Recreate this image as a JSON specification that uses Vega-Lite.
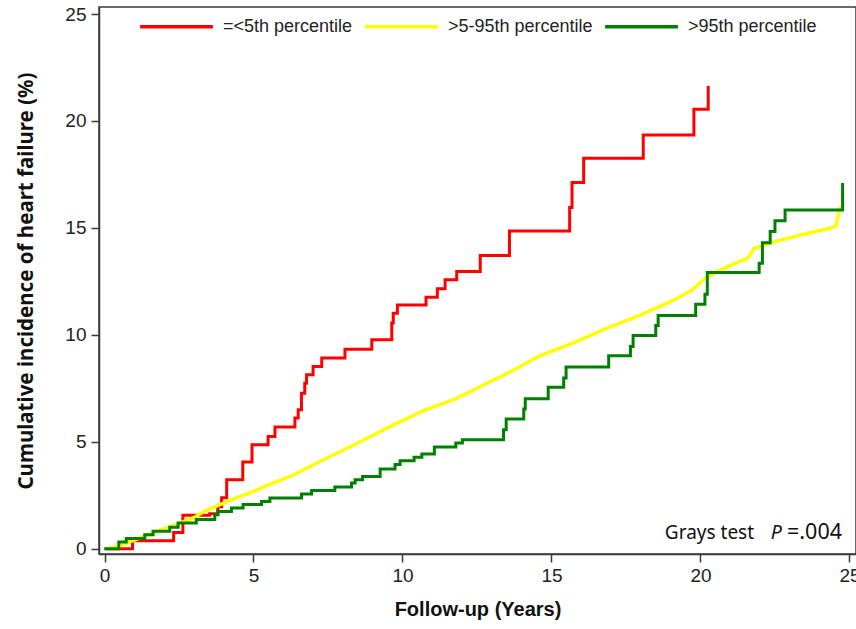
{
  "$schema": "https://vega.github.io/schema/vega-lite/v6.json",
  "width": 757,
  "height": 547,
  "autosize": {"type": "none"},
  "padding": {"left": 99, "top": 7, "right": 0, "bottom": 75},
  "background": "white",
  "config": {
    "view": {"stroke": "#3a3a3a", "strokeWidth": 1.5},
    "axis": {
      "domainColor": "#3a3a3a", "domainWidth": 1.5,
      "tickColor": "#3a3a3a", "tickWidth": 1.5, "tickSize": 8,
      "grid": false,
      "labelFont": "Liberation Sans",
      "labelFontSize": 19, "labelColor": "#222",
      "titleColor": "#111"
    }
  },
  "datasets": {
    "curves": [
      {"group": "=<5th percentile", "x": 0.0, "y": 0.0},
      {"group": "=<5th percentile", "x": 0.94, "y": 0.37},
      {"group": "=<5th percentile", "x": 2.32, "y": 0.75},
      {"group": "=<5th percentile", "x": 2.63, "y": 1.56},
      {"group": "=<5th percentile", "x": 3.53, "y": 1.63},
      {"group": "=<5th percentile", "x": 3.8, "y": 1.96},
      {"group": "=<5th percentile", "x": 3.93, "y": 2.38},
      {"group": "=<5th percentile", "x": 4.1, "y": 3.22},
      {"group": "=<5th percentile", "x": 4.64, "y": 4.05},
      {"group": "=<5th percentile", "x": 4.95, "y": 4.86},
      {"group": "=<5th percentile", "x": 5.49, "y": 5.25},
      {"group": "=<5th percentile", "x": 5.72, "y": 5.69},
      {"group": "=<5th percentile", "x": 6.39, "y": 6.11},
      {"group": "=<5th percentile", "x": 6.5, "y": 6.5},
      {"group": "=<5th percentile", "x": 6.61, "y": 7.27},
      {"group": "=<5th percentile", "x": 6.72, "y": 7.74},
      {"group": "=<5th percentile", "x": 6.78, "y": 8.13},
      {"group": "=<5th percentile", "x": 7.0, "y": 8.52},
      {"group": "=<5th percentile", "x": 7.29, "y": 8.91},
      {"group": "=<5th percentile", "x": 8.07, "y": 9.33},
      {"group": "=<5th percentile", "x": 8.97, "y": 9.77},
      {"group": "=<5th percentile", "x": 9.64, "y": 10.55},
      {"group": "=<5th percentile", "x": 9.69, "y": 11.01},
      {"group": "=<5th percentile", "x": 9.83, "y": 11.4},
      {"group": "=<5th percentile", "x": 10.79, "y": 11.76},
      {"group": "=<5th percentile", "x": 11.17, "y": 12.15},
      {"group": "=<5th percentile", "x": 11.43, "y": 12.57},
      {"group": "=<5th percentile", "x": 11.82, "y": 12.96},
      {"group": "=<5th percentile", "x": 12.61, "y": 13.71},
      {"group": "=<5th percentile", "x": 13.59, "y": 14.86},
      {"group": "=<5th percentile", "x": 15.61, "y": 15.95},
      {"group": "=<5th percentile", "x": 15.69, "y": 17.12},
      {"group": "=<5th percentile", "x": 16.08, "y": 18.26},
      {"group": "=<5th percentile", "x": 18.08, "y": 19.35},
      {"group": "=<5th percentile", "x": 19.78, "y": 20.55},
      {"group": "=<5th percentile", "x": 20.26, "y": 21.64},

      {"group": ">5-95th percentile", "x": 0.06, "y": 0.0},
      {"group": ">5-95th percentile", "x": 0.5, "y": 0.12},
      {"group": ">5-95th percentile", "x": 1.0, "y": 0.4},
      {"group": ">5-95th percentile", "x": 1.9, "y": 0.88},
      {"group": ">5-95th percentile", "x": 3.0, "y": 1.45},
      {"group": ">5-95th percentile", "x": 3.4, "y": 1.78},
      {"group": ">5-95th percentile", "x": 4.3, "y": 2.3},
      {"group": ">5-95th percentile", "x": 5.0, "y": 2.68},
      {"group": ">5-95th percentile", "x": 5.5, "y": 2.98},
      {"group": ">5-95th percentile", "x": 6.3, "y": 3.42},
      {"group": ">5-95th percentile", "x": 7.3, "y": 4.12},
      {"group": ">5-95th percentile", "x": 8.5, "y": 4.94},
      {"group": ">5-95th percentile", "x": 9.6, "y": 5.72},
      {"group": ">5-95th percentile", "x": 10.7, "y": 6.45},
      {"group": ">5-95th percentile", "x": 11.8, "y": 7.02},
      {"group": ">5-95th percentile", "x": 12.9, "y": 7.78},
      {"group": ">5-95th percentile", "x": 13.8, "y": 8.4},
      {"group": ">5-95th percentile", "x": 14.6, "y": 9.02},
      {"group": ">5-95th percentile", "x": 15.7, "y": 9.6},
      {"group": ">5-95th percentile", "x": 16.8, "y": 10.28},
      {"group": ">5-95th percentile", "x": 18.0, "y": 10.93},
      {"group": ">5-95th percentile", "x": 19.1, "y": 11.62},
      {"group": ">5-95th percentile", "x": 19.7, "y": 12.08},
      {"group": ">5-95th percentile", "x": 20.2, "y": 12.68},
      {"group": ">5-95th percentile", "x": 20.9, "y": 13.19},
      {"group": ">5-95th percentile", "x": 21.6, "y": 13.6},
      {"group": ">5-95th percentile", "x": 21.8, "y": 14.05},
      {"group": ">5-95th percentile", "x": 22.5, "y": 14.36},
      {"group": ">5-95th percentile", "x": 23.6, "y": 14.75},
      {"group": ">5-95th percentile", "x": 24.4, "y": 15.0},
      {"group": ">5-95th percentile", "x": 24.55, "y": 15.1},
      {"group": ">5-95th percentile", "x": 24.65, "y": 15.76},
      {"group": ">5-95th percentile", "x": 24.7, "y": 16.0},

      {"group": ">95th percentile", "x": 0.0, "y": 0.0},
      {"group": ">95th percentile", "x": 0.48, "y": 0.31},
      {"group": ">95th percentile", "x": 0.73, "y": 0.47},
      {"group": ">95th percentile", "x": 1.35, "y": 0.65},
      {"group": ">95th percentile", "x": 1.63, "y": 0.81},
      {"group": ">95th percentile", "x": 2.19, "y": 1.0},
      {"group": ">95th percentile", "x": 2.47, "y": 1.2},
      {"group": ">95th percentile", "x": 3.08, "y": 1.36},
      {"group": ">95th percentile", "x": 3.7, "y": 1.59},
      {"group": ">95th percentile", "x": 3.81, "y": 1.74},
      {"group": ">95th percentile", "x": 4.26, "y": 1.9},
      {"group": ">95th percentile", "x": 4.65, "y": 2.06},
      {"group": ">95th percentile", "x": 5.27, "y": 2.21},
      {"group": ">95th percentile", "x": 5.55, "y": 2.37},
      {"group": ">95th percentile", "x": 6.61, "y": 2.56},
      {"group": ">95th percentile", "x": 6.95, "y": 2.72},
      {"group": ">95th percentile", "x": 7.73, "y": 2.88},
      {"group": ">95th percentile", "x": 8.29, "y": 3.07},
      {"group": ">95th percentile", "x": 8.41, "y": 3.22},
      {"group": ">95th percentile", "x": 8.66, "y": 3.38},
      {"group": ">95th percentile", "x": 9.25, "y": 3.72},
      {"group": ">95th percentile", "x": 9.75, "y": 3.93},
      {"group": ">95th percentile", "x": 9.92, "y": 4.11},
      {"group": ">95th percentile", "x": 10.39, "y": 4.27},
      {"group": ">95th percentile", "x": 10.65, "y": 4.43},
      {"group": ">95th percentile", "x": 11.07, "y": 4.75},
      {"group": ">95th percentile", "x": 11.79, "y": 4.94},
      {"group": ">95th percentile", "x": 12.01, "y": 5.09},
      {"group": ">95th percentile", "x": 13.39, "y": 5.56},
      {"group": ">95th percentile", "x": 13.48, "y": 6.06},
      {"group": ">95th percentile", "x": 14.07, "y": 6.53},
      {"group": ">95th percentile", "x": 14.12, "y": 7.01},
      {"group": ">95th percentile", "x": 14.89, "y": 7.55},
      {"group": ">95th percentile", "x": 15.41, "y": 7.98},
      {"group": ">95th percentile", "x": 15.49, "y": 8.49},
      {"group": ">95th percentile", "x": 16.92, "y": 9.02},
      {"group": ">95th percentile", "x": 17.65, "y": 9.45},
      {"group": ">95th percentile", "x": 17.74, "y": 9.97},
      {"group": ">95th percentile", "x": 18.5, "y": 10.43},
      {"group": ">95th percentile", "x": 18.58, "y": 10.9},
      {"group": ">95th percentile", "x": 19.84, "y": 11.43},
      {"group": ">95th percentile", "x": 20.15, "y": 11.9},
      {"group": ">95th percentile", "x": 20.23, "y": 12.91},
      {"group": ">95th percentile", "x": 21.97, "y": 13.35},
      {"group": ">95th percentile", "x": 22.08, "y": 14.31},
      {"group": ">95th percentile", "x": 22.34, "y": 14.83},
      {"group": ">95th percentile", "x": 22.5, "y": 15.33},
      {"group": ">95th percentile", "x": 22.84, "y": 15.84},
      {"group": ">95th percentile", "x": 24.77, "y": 17.1}
    ],
    "note": [
      {"part": "Grays test"},
      {"part": "P"},
      {"part": "=.004"}
    ]
  },
  "layer": [
    {
      "data": {"name": "curves"},
      "transform": [{"filter": "datum.group === '=<5th percentile'"}],
      "mark": {"type": "line", "interpolate": "step-after", "strokeWidth": 3},
      "encoding": {
        "x": {
          "field": "x", "type": "quantitative",
          "scale": {"domain": [-0.185, 25.22], "nice": false, "zero": false},
          "axis": {"values": [0, 5, 10, 15, 20, 25], "title": "Follow-up (Years)",
                   "titleFont": "Liberation Sans",
                   "titleFontSize": 20, "titleFontWeight": "bold", "titlePadding": 14,
                   "labelPadding": 4, "labelFlush": false}
        },
        "y": {
          "field": "y", "type": "quantitative",
          "scale": {"domain": [-0.25, 25.33], "nice": false, "zero": false},
          "axis": {"values": [0, 5, 10, 15, 20, 25], "title": "Cumulative incidence of heart failure (%)",
                   "titleFont": "Noto Sans", "titleFontSize": 20.5, "titleFontWeight": "bold",
                   "titlePadding": 28, "labelPadding": 5}
        },
        "color": {
          "field": "group", "type": "nominal",
          "scale": {"domain": ["=<5th percentile", ">5-95th percentile", ">95th percentile"],
                    "range": ["#FF0000", "#FFFF00", "#008000"]},
          "legend": {
            "title": null, "orient": "none", "direction": "horizontal",
            "legendX": 39, "legendY": -19,
            "symbolType": "stroke", "symbolSize": 5300, "symbolStrokeWidth": 3.5,
            "labelFont": "Liberation Sans", "labelFontSize": 18, "labelColor": "#222",
            "labelOffset": 8, "columnPadding": 5
          }
        }
      }
    },
    {
      "data": {"name": "curves"},
      "transform": [{"filter": "datum.group === '>5-95th percentile'"}],
      "mark": {"type": "line", "interpolate": "linear", "strokeWidth": 3.5},
      "encoding": {
        "x": {"field": "x", "type": "quantitative"},
        "y": {"field": "y", "type": "quantitative"},
        "color": {"field": "group", "type": "nominal"}
      }
    },
    {
      "data": {"name": "curves"},
      "transform": [{"filter": "datum.group === '>95th percentile'"}],
      "mark": {"type": "line", "interpolate": "step-after", "strokeWidth": 3},
      "encoding": {
        "x": {"field": "x", "type": "quantitative"},
        "y": {"field": "y", "type": "quantitative"},
        "color": {"field": "group", "type": "nominal"}
      }
    },
    {
      "data": {"name": "note"},
      "transform": [{"filter": "datum.part === 'Grays test'"}],
      "mark": {"type": "text", "align": "right", "baseline": "middle", "font": "Noto Sans", "fontSize": 19, "color": "#111"},
      "encoding": {
        "x": {"datum": 21.8, "type": "quantitative"},
        "y": {"datum": 0.75, "type": "quantitative"},
        "text": {"field": "part"}
      }
    },
    {
      "data": {"name": "note"},
      "transform": [{"filter": "datum.part === 'P'"}],
      "mark": {"type": "text", "align": "right", "baseline": "middle", "font": "Noto Sans", "fontSize": 19.5, "fontStyle": "italic", "color": "#111"},
      "encoding": {
        "x": {"datum": 22.73, "type": "quantitative"},
        "y": {"datum": 0.75, "type": "quantitative"},
        "text": {"field": "part"}
      }
    },
    {
      "data": {"name": "note"},
      "transform": [{"filter": "datum.part === '=.004'"}],
      "mark": {"type": "text", "align": "right", "baseline": "middle", "font": "Noto Sans", "fontSize": 21.5, "color": "#111"},
      "encoding": {
        "x": {"datum": 24.75, "type": "quantitative"},
        "y": {"datum": 0.75, "type": "quantitative"},
        "text": {"field": "part"}
      }
    }
  ]
}
